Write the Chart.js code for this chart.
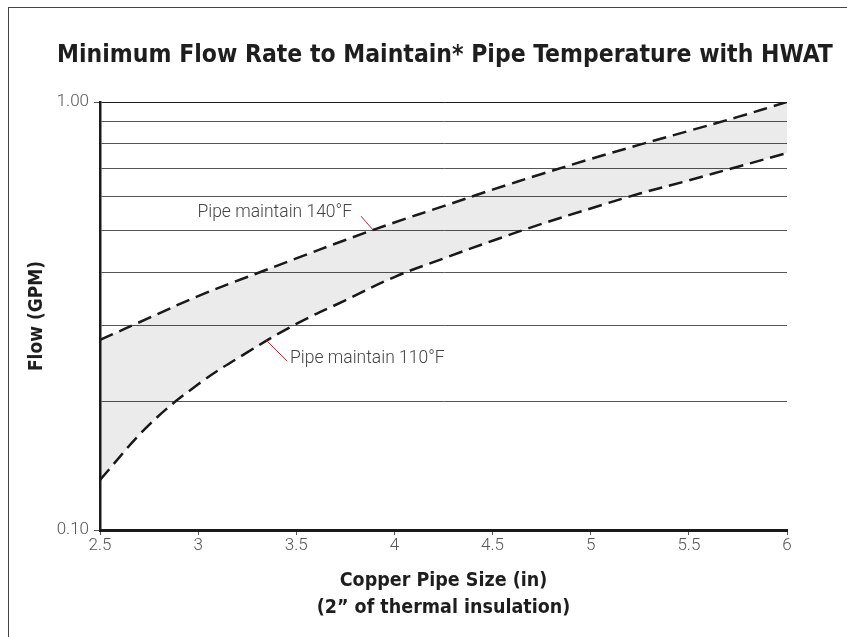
<!DOCTYPE html>
<html>
<head>
<meta charset="utf-8">
<script src="https://cdn.jsdelivr.net/npm/chart.js@4"></script>
<style>
body { margin: 0; background: #fff; }
#wrap { position: relative; width: 847px; height: 637px; overflow: hidden; }
#frame { position: absolute; left: 8px; top: 7px; width: 900px; height: 700px; border-top: 1.5px solid #444; border-left: 1.5px solid #444; }
canvas { position: absolute; left: 0; top: 0; }
</style>
</head>
<body>
<div id="wrap"><div id="frame"></div><canvas id="flow-chart" width="847" height="637"></canvas></div>
<script>
// copper pipe size (in)
var pipeSize = [2.5, 2.75, 3, 3.25, 3.5, 3.75, 4, 4.25, 4.5, 4.75, 5, 5.25, 5.5, 5.75, 6];
// minimum flow (GPM)
var flow140 = [0.278, 0.313, 0.352, 0.390, 0.431, 0.476, 0.523, 0.571, 0.624, 0.679, 0.736, 0.795, 0.856, 0.923, 1.0];
var flow110 = [0.131, 0.176, 0.219, 0.260, 0.303, 0.344, 0.390, 0.431, 0.474, 0.519, 0.564, 0.611, 0.656, 0.706, 0.76];
var xTicks = [2.5, 3, 3.5, 4, 4.5, 5, 5.5, 6];
var yTicks = [0.1, 0.2, 0.3, 0.4, 0.5, 0.6, 0.7, 0.8, 0.9, 1.0];
var yLabeled = [0.1, 1.0];

// callout labels: text, anchor point, leader line
var callouts = [
  { text: "Pipe maintain 140\u00B0F", x: 3.784, y: 0.550, align: "right", from: [3.83, 0.541], to: [3.89, 0.503] },
  { text: "Pipe maintain 110\u00B0F", x: 3.468, y: 0.252, align: "left", from: [3.346, 0.278], to: [3.453, 0.248] }
];

var labelFont = "Roboto, 'DejaVu Sans', sans-serif";
var boldFont = "'DejaVu Sans Condensed', 'DejaVu Sans', sans-serif";

function toPoints(xs, ys) {
  var pts = [];
  for (var i = 0; i < xs.length; i++) pts.push({ x: xs[i], y: ys[i] });
  return pts;
}

var extrasPlugin = {
  id: 'extras',
  afterDatasetsDraw: function(chart) {
    var ctx = chart.ctx;
    var xs = chart.scales.x, ys = chart.scales.y;
    ctx.save();
    ctx.font = "300 17.5px " + labelFont;
    ctx.fillStyle = "#444";
    ctx.textBaseline = "middle";
    callouts.forEach(function(c) {
      ctx.textAlign = c.align;
      ctx.fillText(c.text, xs.getPixelForValue(c.x), ys.getPixelForValue(c.y));
      ctx.strokeStyle = "#a8323e";
      ctx.lineWidth = 1;
      ctx.beginPath();
      ctx.moveTo(xs.getPixelForValue(c.from[0]), ys.getPixelForValue(c.from[1]));
      ctx.lineTo(xs.getPixelForValue(c.to[0]), ys.getPixelForValue(c.to[1]));
      ctx.stroke();
    });
    ctx.restore();
  },
  afterDraw: function(chart) {
    var ctx = chart.ctx;
    ctx.save();
    ctx.font = "bold 24.5px " + boldFont;
    ctx.fillStyle = "#1e1e1e";
    ctx.textAlign = "center";
    ctx.textBaseline = "middle";
    ctx.fillText("Minimum Flow Rate to Maintain* Pipe Temperature with HWAT", 445, 56);
    ctx.restore();
  }
};

new Chart(document.getElementById("flow-chart"), {
  type: 'line',
  data: {
    datasets: [
      {
        label: "Pipe maintain 140\u00B0F",
        data: toPoints(pipeSize, flow140),
        borderColor: "#1a1a1a",
        borderWidth: 2.5,
        borderDash: [14, 7],
        backgroundColor: "rgba(0,0,0,0.08)",
        fill: '+1',
        pointRadius: 0,
        tension: 0.4
      },
      {
        label: "Pipe maintain 110\u00B0F",
        data: toPoints(pipeSize, flow110),
        borderColor: "#1a1a1a",
        borderWidth: 2.5,
        borderDash: [14, 7],
        fill: false,
        pointRadius: 0,
        tension: 0.4
      }
    ]
  },
  options: {
    responsive: false,
    animation: false,
    layout: { padding: { top: 102, right: 60, bottom: 0, left: 0 } },
    plugins: { legend: { display: false }, tooltip: { enabled: false } },
    scales: {
      x: {
        type: 'linear',
        min: 2.5,
        max: 6,
        afterBuildTicks: function(scale) { scale.ticks = xTicks.map(function(v) { return { value: v }; }); },
        afterFit: function(scale) { scale.height = 107; },
        border: { color: "#1a1a1a", width: 3 },
        grid: { drawOnChartArea: false, tickLength: 5, tickColor: "#555" },
        ticks: { color: "#555", padding: 1, font: { family: labelFont, size: 17, weight: '300' },
          callback: function(v) { return String(v); } },
        title: { display: true, text: ["Copper Pipe Size (in)", "(2\u201D of thermal insulation)"],
          color: "#1e1e1e", padding: { top: 0, bottom: 15 },
          font: { family: boldFont, size: 19.5, weight: 'bold', lineHeight: 1.42 } }
      },
      y: {
        type: 'logarithmic',
        min: 0.1,
        max: 1,
        afterBuildTicks: function(scale) { scale.ticks = yTicks.map(function(v) { return { value: v }; }); },
        afterFit: function(scale) { scale.width = 100; },
        border: { color: "#1a1a1a", width: 2.5 },
        grid: {
          color: function(c) { return c.tick && c.tick.value === 1 ? "#1a1a1a" : "#555"; },
          lineWidth: 1,
          tickLength: 6,
          tickColor: function(c) { return c.tick && yLabeled.indexOf(c.tick.value) >= 0 ? "#555" : "rgba(0,0,0,0)"; }
        },
        ticks: { color: "#555", padding: 5, autoSkip: false, font: { family: labelFont, size: 17, weight: '300' },
          callback: function(v) { return yLabeled.indexOf(v) >= 0 ? v.toFixed(2) : ""; } },
        title: { display: true, text: "Flow (GPM)", color: "#1e1e1e", padding: { top: 26, bottom: 0 },
          font: { family: boldFont, size: 19, weight: 'bold' } }
      }
    }
  },
  plugins: [extrasPlugin]
});
</script>
</body>
</html>
